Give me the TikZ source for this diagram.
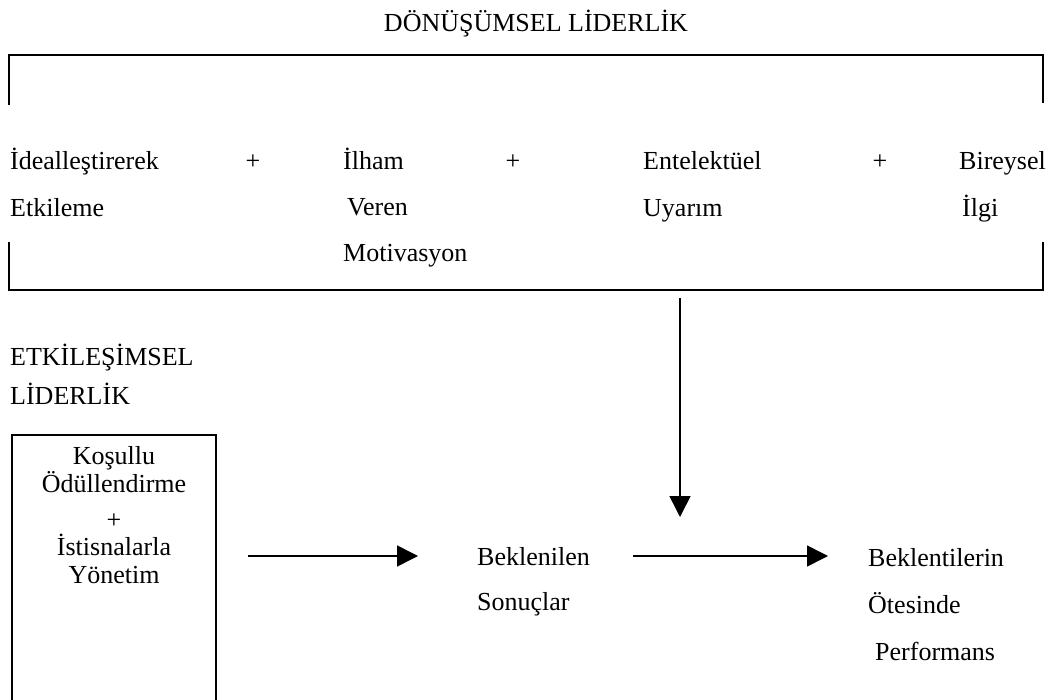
\documentclass[tikz,border=0pt]{standalone}
\usepackage{fontspec}
\setmainfont{Liberation Serif}
\usetikzlibrary{arrows.meta}
\tikzset{
  txt/.style={inner sep=0pt, align=left, anchor=base west, font=\fontsize{26}{47}\selectfont},
  plus/.style={inner sep=0pt, anchor=base, font=\fontsize{26}{47}\selectfont},
  brk/.style={line width=2pt},
  arr/.style={line width=1.6pt, -{Triangle[length=21pt,width=21pt]}},
}
\begin{document}
\begin{tikzpicture}[x=1pt,y=1pt]
\clip (0,0) rectangle (1059,699);
\fill[white] (0,0) rectangle (1059,699);
% title
\node[plus] (title) at (536,667) {DÖNÜŞÜMSEL LİDERLİK};
% brackets
\coordinate (tl) at (9,644);
\coordinate (tr) at (1043,644);
\coordinate (bl) at (9,409);
\coordinate (br) at (1043,409);
\draw[brk] ([yshift=-50pt]tl) -- (tl) -- (tr) -- ([yshift=-48pt]tr);
\draw[brk] ([yshift=48pt]bl) -- (bl) -- (br) -- ([yshift=48pt]br);
% row of components (anchor = baseline of last line)
\node[txt] (ideal) at (10,482) {İdealleştirerek\\Etkileme};
\node[plus] (p1) at (253,529) {+};
\node[txt, font=\fontsize{26}{46}\selectfont] (ilham) at (343,437) {İlham\\\hspace*{4pt}Veren\\Motivasyon};
\node[plus] (p2) at (513,529) {+};
\node[txt] (entel) at (643,482) {Entelektüel\\Uyarım};
\node[plus] (p3) at (880,529) {+};
\node[txt] (birey) at (959,482) {Bireysel\\\hspace*{3pt}İlgi};
% transactional
\node[txt, font=\fontsize{26}{39}\selectfont] (etk) at (10,294) {ETKİLEŞİMSEL\\LİDERLİK};
\draw[line width=1.4pt] (12,-10) -- (12,264) -- (216,264) -- (216,-10);
\node[inner sep=0pt, anchor=base, align=center, font=\fontsize{26}{28}\selectfont] (kosul) at (114,116)
  {Koşullu\\Ödüllendirme\\[8pt]+\\[-1pt]İstisnalarla\\Yönetim};
% outcomes
\node[txt, font=\fontsize{26}{45}\selectfont] (bek) at (477,89) {Beklenilen\\Sonuçlar};
\node[txt] (otes) at (868,39) {Beklentilerin\\Ötesinde\\\hspace*{7pt}Performans};
% arrows
\coordinate (a1s) at (248,143);
\coordinate (a1e) at (418,143);
\coordinate (a2s) at (633,143);
\coordinate (a2e) at (828,143);
\coordinate (d0) at (680,409);
\coordinate (d1) at (680,182);
\draw[arr] (a1s) -- (a1e);
\draw[arr] (a2s) -- (a2e);
\draw[arr, shorten <=8pt] (d0) -- (d1);
\end{tikzpicture}
\end{document}
